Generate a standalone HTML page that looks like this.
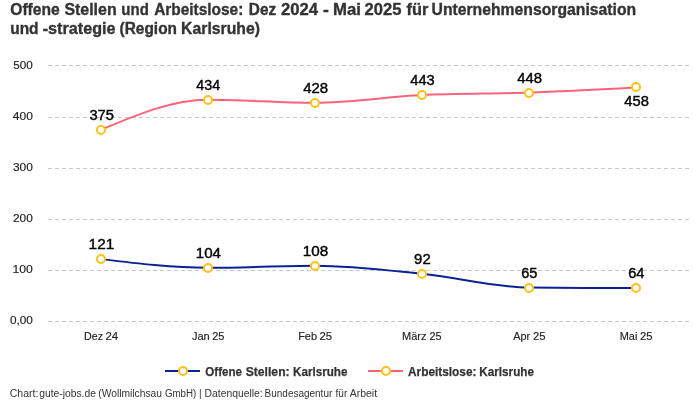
<!DOCTYPE html>
<html><head><meta charset="utf-8"><style>
html,body{margin:0;padding:0;background:#fff;width:700px;height:400px;overflow:hidden}
svg{display:block;will-change:transform}
text{font-family:"Liberation Sans",sans-serif}
.ax{font-size:11.2px;fill:#222;stroke:#222;stroke-width:0.15px}
.val{font-size:13.8px;fill:#050505;stroke:#050505;stroke-width:0.4px}
.leg{font-size:12.8px;font-weight:bold;fill:#333333;stroke:#333333;stroke-width:0.25px}
.ttl{font-size:15.8px;font-weight:bold;fill:#333333;stroke:#333333;stroke-width:0.35px}
.ftr{font-size:10px;fill:#333333}
</style></head><body>
<svg width="700" height="400" viewBox="0 0 700 400">
<rect width="700" height="400" fill="#fff"/>
<line x1="48" y1="65.5" x2="691" y2="65.5" stroke="#c8c8c8" stroke-width="1" stroke-dasharray="4 3"/>
<line x1="48" y1="117.5" x2="691" y2="117.5" stroke="#c8c8c8" stroke-width="1" stroke-dasharray="4 3"/>
<line x1="48" y1="168.5" x2="691" y2="168.5" stroke="#c8c8c8" stroke-width="1" stroke-dasharray="4 3"/>
<line x1="48" y1="219.5" x2="691" y2="219.5" stroke="#c8c8c8" stroke-width="1" stroke-dasharray="4 3"/>
<line x1="48" y1="270.5" x2="691" y2="270.5" stroke="#c8c8c8" stroke-width="1" stroke-dasharray="4 3"/>
<line x1="48" y1="321.5" x2="691" y2="321.5" stroke="#c8c8c8" stroke-width="1" stroke-dasharray="4 3"/>
<text x="13.33" y="68.8" textLength="19.53" lengthAdjust="spacingAndGlyphs" class="ax">500</text>
<text x="12.82" y="119.8" textLength="20.05" lengthAdjust="spacingAndGlyphs" class="ax">400</text>
<text x="12.95" y="170.8" textLength="19.92" lengthAdjust="spacingAndGlyphs" class="ax">300</text>
<text x="13.00" y="221.8" textLength="19.86" lengthAdjust="spacingAndGlyphs" class="ax">200</text>
<text x="12.47" y="272.8" textLength="20.41" lengthAdjust="spacingAndGlyphs" class="ax">100</text>
<text x="9.94" y="323.8" textLength="22.92" lengthAdjust="spacingAndGlyphs" class="ax">0,00</text>
<text x="84.05" y="339.9" textLength="19.01" lengthAdjust="spacingAndGlyphs" class="ax">Dez</text>
<text x="105.49" y="339.9" textLength="12.77" lengthAdjust="spacingAndGlyphs" class="ax">24</text>
<text x="191.90" y="339.9" textLength="17.75" lengthAdjust="spacingAndGlyphs" class="ax">Jan</text>
<text x="212.21" y="339.9" textLength="12.28" lengthAdjust="spacingAndGlyphs" class="ax">25</text>
<text x="298.17" y="339.9" textLength="18.81" lengthAdjust="spacingAndGlyphs" class="ax">Feb</text>
<text x="319.50" y="339.9" textLength="12.61" lengthAdjust="spacingAndGlyphs" class="ax">25</text>
<text x="402.07" y="339.9" textLength="24.41" lengthAdjust="spacingAndGlyphs" class="ax">März</text>
<text x="429.42" y="339.9" textLength="12.06" lengthAdjust="spacingAndGlyphs" class="ax">25</text>
<text x="513.15" y="339.9" textLength="16.96" lengthAdjust="spacingAndGlyphs" class="ax">Apr</text>
<text x="532.90" y="339.9" textLength="12.61" lengthAdjust="spacingAndGlyphs" class="ax">25</text>
<text x="619.67" y="339.9" textLength="17.70" lengthAdjust="spacingAndGlyphs" class="ax">Mai</text>
<text x="639.90" y="339.9" textLength="12.61" lengthAdjust="spacingAndGlyphs" class="ax">25</text>
<path d="M101.00,129.75 C136.67,114.73 172.33,99.71 208.00,99.71 C243.67,99.71 279.33,102.76 315.00,102.76 C350.67,102.76 386.33,96.82 422.00,95.12 C457.67,93.43 493.33,93.85 529.00,92.58 C564.67,91.31 600.33,89.40 636.00,87.49" fill="none" stroke="#ff627b" stroke-width="2"/>
<path d="M101.00,259.09 C136.67,263.41 172.33,267.74 208.00,267.74 C243.67,267.74 279.33,265.71 315.00,265.71 C350.67,265.71 386.33,270.20 422.00,273.85 C457.67,277.50 493.33,287.26 529.00,287.60 C564.67,287.94 600.33,288.03 636.00,288.11" fill="none" stroke="#0a2294" stroke-width="2"/>
<circle cx="101" cy="130" r="4" fill="#fff" stroke="#ffc20e" stroke-width="2"/>
<circle cx="208" cy="100" r="4" fill="#fff" stroke="#ffc20e" stroke-width="2"/>
<circle cx="315" cy="103" r="4" fill="#fff" stroke="#ffc20e" stroke-width="2"/>
<circle cx="422" cy="95" r="4" fill="#fff" stroke="#ffc20e" stroke-width="2"/>
<circle cx="529" cy="93" r="4" fill="#fff" stroke="#ffc20e" stroke-width="2"/>
<circle cx="636" cy="87" r="4" fill="#fff" stroke="#ffc20e" stroke-width="2"/>
<circle cx="101" cy="259" r="4" fill="#fff" stroke="#ffc20e" stroke-width="2"/>
<circle cx="208" cy="268" r="4" fill="#fff" stroke="#ffc20e" stroke-width="2"/>
<circle cx="315" cy="266" r="4" fill="#fff" stroke="#ffc20e" stroke-width="2"/>
<circle cx="422" cy="274" r="4" fill="#fff" stroke="#ffc20e" stroke-width="2"/>
<circle cx="529" cy="288" r="4" fill="#fff" stroke="#ffc20e" stroke-width="2"/>
<circle cx="636" cy="288" r="4" fill="#fff" stroke="#ffc20e" stroke-width="2"/>
<text x="89.44" y="119.8" textLength="24.47" lengthAdjust="spacingAndGlyphs" class="val">375</text>
<text x="196.37" y="89.5" textLength="23.85" lengthAdjust="spacingAndGlyphs" class="val">434</text>
<text x="303.26" y="92.55" textLength="24.94" lengthAdjust="spacingAndGlyphs" class="val">428</text>
<text x="410.26" y="84.7" textLength="24.43" lengthAdjust="spacingAndGlyphs" class="val">443</text>
<text x="517.26" y="82.7" textLength="24.79" lengthAdjust="spacingAndGlyphs" class="val">448</text>
<text x="624.36" y="105.6" textLength="24.58" lengthAdjust="spacingAndGlyphs" class="val">458</text>
<text x="88.58" y="248.9" textLength="25.67" lengthAdjust="spacingAndGlyphs" class="val">121</text>
<text x="195.80" y="257.55" textLength="25.19" lengthAdjust="spacingAndGlyphs" class="val">104</text>
<text x="302.79" y="255.7" textLength="25.42" lengthAdjust="spacingAndGlyphs" class="val">108</text>
<text x="414.10" y="264.0" textLength="16.60" lengthAdjust="spacingAndGlyphs" class="val">92</text>
<text x="521.21" y="277.7" textLength="16.20" lengthAdjust="spacingAndGlyphs" class="val">65</text>
<text x="628.21" y="277.7" textLength="16.27" lengthAdjust="spacingAndGlyphs" class="val">64</text>
<line x1="165" y1="371" x2="200" y2="371" stroke="#0a2294" stroke-width="2"/>
<circle cx="183" cy="371" r="4" fill="#fff" stroke="#ffc20e" stroke-width="2"/>
<text x="205.35" y="375.7" textLength="36.63" lengthAdjust="spacingAndGlyphs" class="leg">Offene</text>
<text x="245.67" y="375.7" textLength="43.98" lengthAdjust="spacingAndGlyphs" class="leg">Stellen:</text>
<text x="293.04" y="375.7" textLength="54.34" lengthAdjust="spacingAndGlyphs" class="leg">Karlsruhe</text>
<line x1="368" y1="371" x2="403" y2="371" stroke="#ff627b" stroke-width="2"/>
<circle cx="386" cy="371" r="4" fill="#fff" stroke="#ffc20e" stroke-width="2"/>
<text x="408.03" y="375.7" textLength="68.39" lengthAdjust="spacingAndGlyphs" class="leg">Arbeitslose:</text>
<text x="479.34" y="375.7" textLength="54.64" lengthAdjust="spacingAndGlyphs" class="leg">Karlsruhe</text>
<text x="10.23" y="14.55" textLength="49.54" lengthAdjust="spacingAndGlyphs" class="ttl">Offene</text>
<text x="64.41" y="14.55" textLength="52.21" lengthAdjust="spacingAndGlyphs" class="ttl">Stellen</text>
<text x="121.34" y="14.55" textLength="27.48" lengthAdjust="spacingAndGlyphs" class="ttl">und</text>
<text x="154.19" y="14.55" textLength="89.13" lengthAdjust="spacingAndGlyphs" class="ttl">Arbeitslose:</text>
<text x="248.84" y="14.55" textLength="27.34" lengthAdjust="spacingAndGlyphs" class="ttl">Dez</text>
<text x="280.99" y="14.55" textLength="37.03" lengthAdjust="spacingAndGlyphs" class="ttl">2024</text>
<text x="323.08" y="14.55" textLength="5.85" lengthAdjust="spacingAndGlyphs" class="ttl">-</text>
<text x="332.95" y="14.55" textLength="27.97" lengthAdjust="spacingAndGlyphs" class="ttl">Mai</text>
<text x="364.50" y="14.55" textLength="36.90" lengthAdjust="spacingAndGlyphs" class="ttl">2025</text>
<text x="406.59" y="14.55" textLength="21.79" lengthAdjust="spacingAndGlyphs" class="ttl">für</text>
<text x="431.52" y="14.55" textLength="204.68" lengthAdjust="spacingAndGlyphs" class="ttl">Unternehmensorganisation</text>
<text x="10.21" y="34.0" textLength="28.34" lengthAdjust="spacingAndGlyphs" class="ttl">und</text>
<text x="42.74" y="34.0" textLength="72.85" lengthAdjust="spacingAndGlyphs" class="ttl">-strategie</text>
<text x="119.60" y="34.0" textLength="57.38" lengthAdjust="spacingAndGlyphs" class="ttl">(Region</text>
<text x="181.12" y="34.0" textLength="78.80" lengthAdjust="spacingAndGlyphs" class="ttl">Karlsruhe)</text>
<text x="9.77" y="397.3" textLength="28.59" lengthAdjust="spacingAndGlyphs" class="ftr">Chart:</text>
<text x="39.27" y="397.3" textLength="56.59" lengthAdjust="spacingAndGlyphs" class="ftr">gute-jobs.de</text>
<text x="98.26" y="397.3" textLength="63.82" lengthAdjust="spacingAndGlyphs" class="ftr">(Wollmilchsau</text>
<text x="164.91" y="397.3" textLength="31.39" lengthAdjust="spacingAndGlyphs" class="ftr">GmbH)</text>
<text x="199.10" y="397.3" class="ftr">|</text>
<text x="204.55" y="397.3" textLength="58.09" lengthAdjust="spacingAndGlyphs" class="ftr">Datenquelle:</text>
<text x="264.58" y="397.3" textLength="67.68" lengthAdjust="spacingAndGlyphs" class="ftr">Bundesagentur</text>
<text x="335.56" y="397.3" textLength="11.71" lengthAdjust="spacingAndGlyphs" class="ftr">für</text>
<text x="349.68" y="397.3" textLength="27.40" lengthAdjust="spacingAndGlyphs" class="ftr">Arbeit</text>
</svg>
</body></html>
